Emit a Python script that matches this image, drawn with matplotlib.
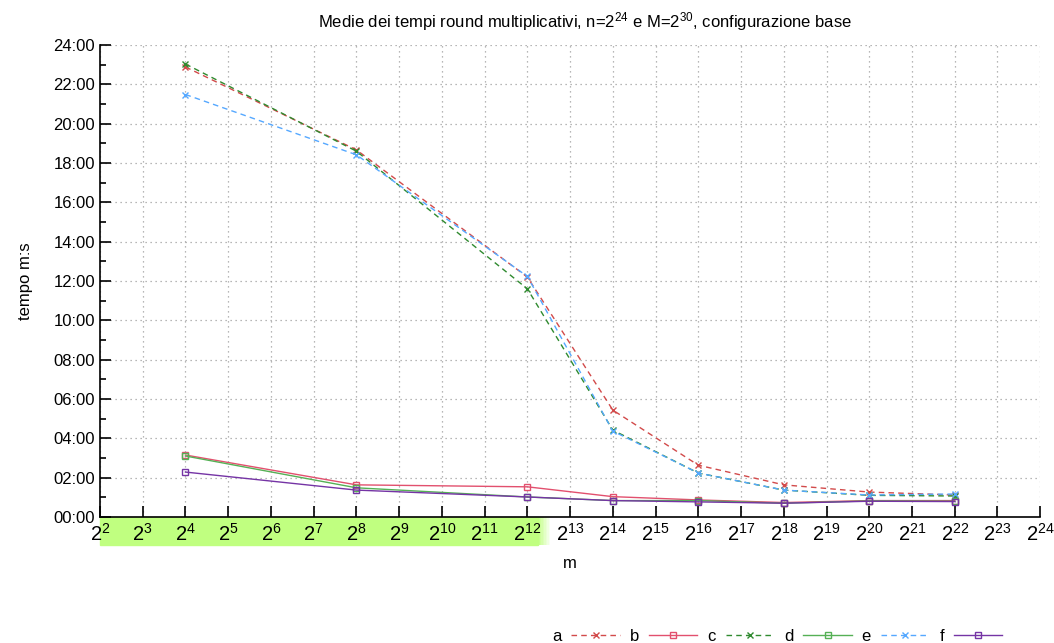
import numpy as np
import matplotlib.pyplot as plt
from matplotlib.ticker import FixedLocator, MultipleLocator, FuncFormatter
from matplotlib.transforms import blended_transform_factory

plt.rcParams['font.family'] = ['Liberation Sans', 'DejaVu Sans']
plt.rcParams['mathtext.fontset'] = 'custom'
plt.rcParams['mathtext.rm'] = 'Liberation Sans'
plt.rcParams['mathtext.it'] = 'Liberation Sans'
plt.rcParams['mathtext.default'] = 'regular'

# round sizes m (powers of two) and mean times in seconds
m_exp = [4, 8, 12, 14, 16, 18, 20, 22]
a = [1373, 1120, 732, 326, 158, 98, 76, 67]
b = [189, 98, 92, 62, 52, 44, 50, 50]
c = [1382, 1116, 696, 265, 134, 82, 66, 64]
d = [186, 89, 61, 50, 50, 42, 49, 48]
e = [1289, 1105, 734, 262, 134, 82, 67, 70]
f = [137, 82, 61, 50, 46, 42, 48, 47]

tick_exp = list(range(2, 25))
highlight_exp = (2, 12.25)

series = [
    ("a", a, "#d24a4a", "--", "x"),
    ("b", b, "#e2506e", "-", "s"),
    ("c", c, "#2f8a2f", "--", "x"),
    ("d", d, "#55b055", "-", "s"),
    ("e", e, "#55a8ff", "--", "x"),
    ("f", f, "#7534a5", "-", "s"),
]

fig = plt.figure(figsize=(10.54, 6.43), dpi=100)
ax = fig.add_axes([0.0949, 0.196, 0.892, 0.734])

m = [2 ** k for k in m_exp]
for name, vals, col, ls, mk in series:
    ax.plot(m, vals, color=col, linestyle=ls, linewidth=1.0, marker=mk,
            markersize=5, markerfacecolor="none", markeredgewidth=1.0,
            label=name, dashes=(4, 3) if ls == "--" else (None, None))

ax.set_xscale("log", base=2)
ax.set_xlim(2 ** 2, 2 ** 24)
ax.set_ylim(0, 24 * 60)
ax.xaxis.set_major_locator(FixedLocator([2 ** k for k in tick_exp]))
ax.xaxis.set_minor_locator(FixedLocator([]))
ax.xaxis.set_major_formatter(FuncFormatter(lambda v, p: "$2^{%d}$" % round(np.log2(v))))
ax.yaxis.set_major_locator(MultipleLocator(120))
ax.yaxis.set_minor_locator(MultipleLocator(60))
ax.yaxis.set_major_formatter(FuncFormatter(lambda v, p: "%02d:%02d" % (int(v) // 60, int(v) % 60)))

ax.tick_params(axis="both", which="both", direction="in", width=1.2)
ax.tick_params(axis="both", which="major", length=8)
ax.tick_params(axis="y", which="minor", length=4)
ax.tick_params(axis="x", labelsize=14.5, pad=4)
ax.tick_params(axis="y", labelsize=12)

ax.spines["top"].set_visible(False)
ax.spines["right"].set_visible(False)
ax.spines["left"].set_linewidth(1.2)
ax.spines["bottom"].set_linewidth(1.2)
ax.grid(True, which="major", color="#a0a0a0", linestyle=(0, (1, 3)), linewidth=0.9)

# green highlight behind the first x tick labels, fading at the right end
tr = blended_transform_factory(ax.transData, ax.transAxes)
x0, x1 = highlight_exp
ax.add_patch(plt.Rectangle((2 ** x0, -0.06), 2 ** x1 - 2 ** x0, 0.06,
                           transform=tr, color="#c0ff80", clip_on=False, zorder=-1))
steps = 8
for i in range(steps):
    e0 = x1 + 0.035 * i
    ax.add_patch(plt.Rectangle((2 ** e0, -0.06), 2 ** (e0 + 0.035) - 2 ** e0, 0.06,
                               transform=tr, color="#c0ff80", alpha=1 - (i + 1) / (steps + 1),
                               clip_on=False, zorder=-1, linewidth=0))

ax.set_xlabel("m", fontsize=12, labelpad=8)
ax.set_ylabel("tempo m:s", fontsize=12, labelpad=15)
fig.suptitle("Medie dei tempi round multiplicativi, n=$2^{24}$ e M=$2^{30}$, configurazione base",
             fontsize=12, x=0.555, y=0.985)

fig.legend(loc="lower right", bbox_to_anchor=(0.962, -0.019), ncol=6, frameon=False,
           markerfirst=False, fontsize=12, handlelength=2.9, columnspacing=0.6,
           handletextpad=0.6, borderaxespad=0.3)

fig.savefig("out.png", dpi=100)
